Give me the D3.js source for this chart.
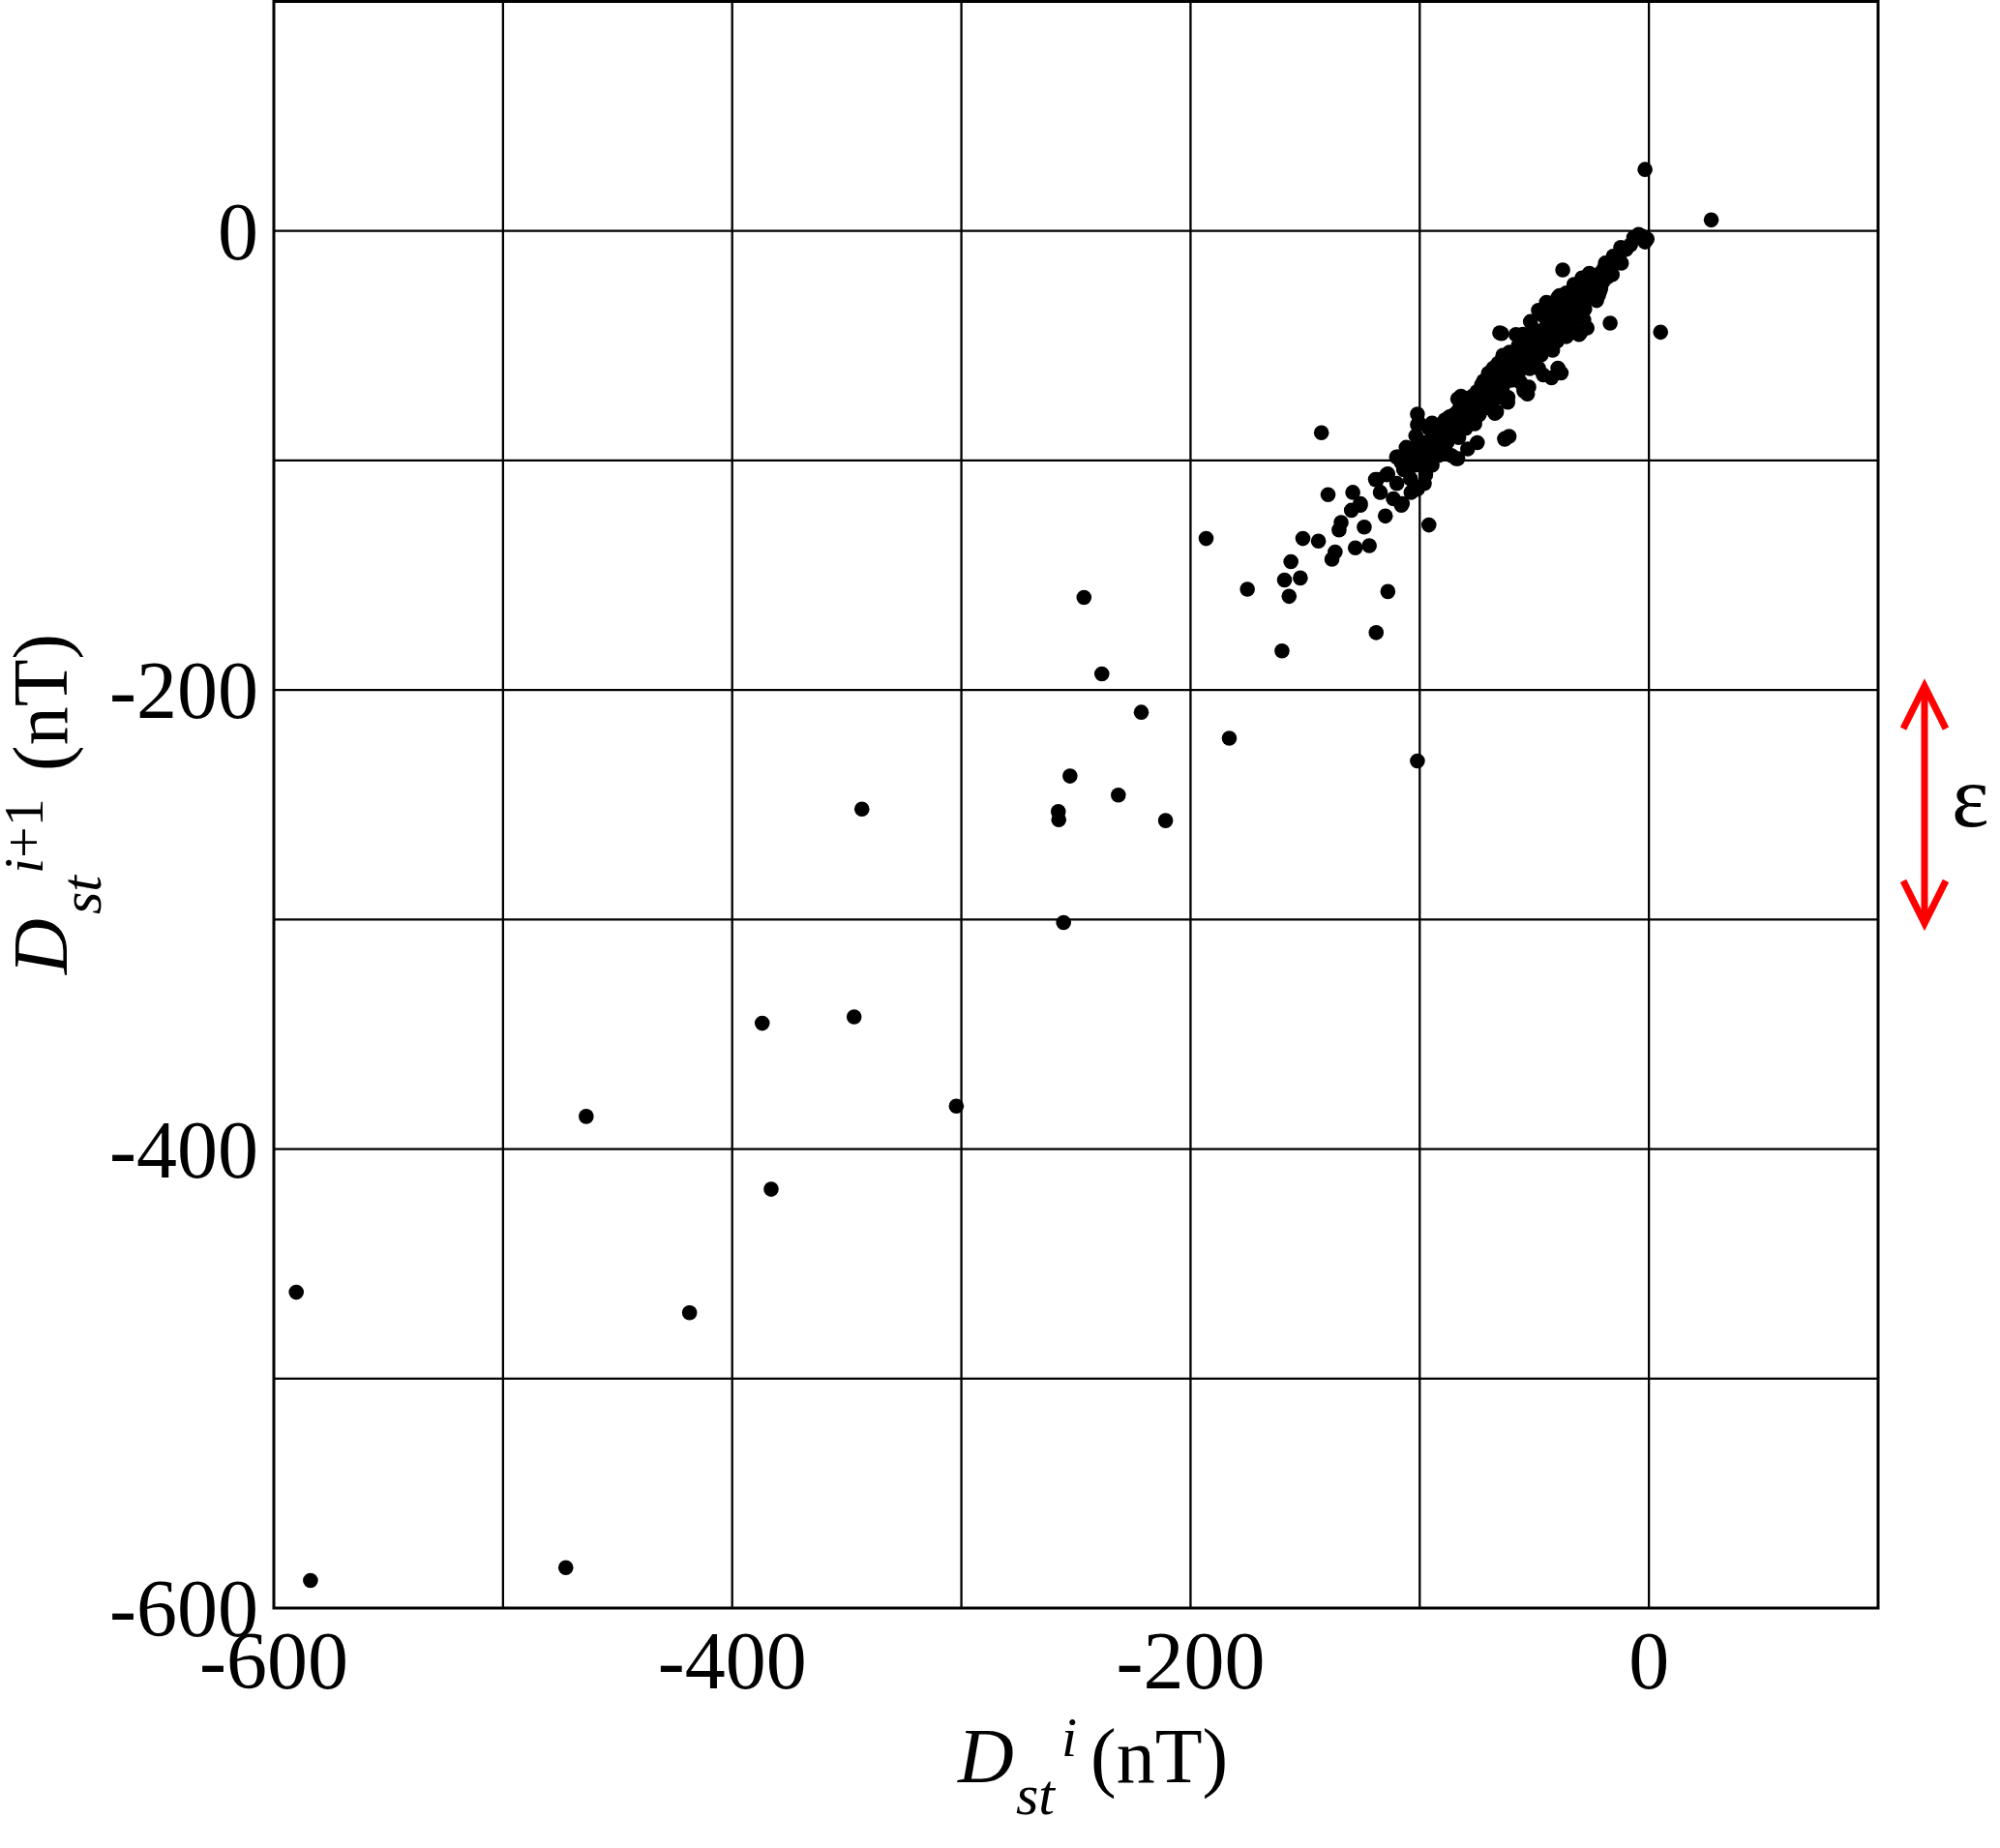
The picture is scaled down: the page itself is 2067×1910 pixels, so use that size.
<!DOCTYPE html>
<html>
<head>
<meta charset="utf-8">
<script src="https://cdn.jsdelivr.net/npm/d3@7"></script>
<style>
  body { margin: 0; background: #fff; }
  svg { display: block; }
  text { font-family: "Liberation Serif", "Times New Roman", serif; fill: #000; }
</style>
</head>
<body>
<svg id="chart" width="2067" height="1910"></svg>
<script>
// Dst(i) on x, Dst(i+1) on y (nT)
var dstNow = [
  // storm outliers
  -590.2, -584.0, -472.6, -418.6, -463.7, -383.0, -386.9, -346.8, -343.4, -302.2,
  -255.4, -257.7, -257.5, -252.6, -231.5, -210.9, -238.7, -221.5, -246.5, -183.1,
  -101.0,
  // -200 .. -95 band
  -193.2, -175.2, -160.1, -157.0, -159.0, -152.1, -156.2, -151.0, -144.2, -138.3,
  -136.9, -135.2, -134.3, -129.8, -125.9, -124.2, -128.1, -122.0, -115.0, -108.0,
  -113.9, -119.0, -96.0, -142.9, -140.0, -129.2, -125.9,
  -119.3, -113.9, -117.2, -111.5, -107.6, -103.8, -101.0, -104, -107, -110, -98,
  -114.4, -118.6, -110.1, -109.4, -105.9, -101.7, -101.0, -100.3, -101.0,
  // main cluster
  -97.4, -94.6, -91.8, -96.7, -90.4, -89.0, -86.2, -83.4, -84.1, -79.1, -74.9,
  -94.6, -96, -92, -99, -101, -88, -85, -84, -80, -76,
  -80.6, -86.2, -83.4, -82, -77.7, -80, -74, -70, -72.1, -70, -68, -72, -75,
  -66.5, -67.2, -62.2, -61.5, -61.6, -54.5, -54.5, -53, -52.4, -63.7, -63.7,
  -62.9, -62.9, -61, -65.8, -67.9, -62, -58, -60, -56,
  -60.8, -63.7, -57, -53, -48, -45, -42, -40, -36,
  -38.3, -42.5, -39.7, -48.2, -46.1, -50, -52, -55, -47,
  -64.3, -65.1, -58.0, -51.7, -55, -50, -44.7, -39.7, -39.0, -42, -48.2, -46, -40, -38, -35, -44,
  -34.8, -33, -36, -37.6, -32.7, -29.2, -26, -31, -29.2, -27, -24, -22, -20,
  -28.4, -30.5, -27.0, -29.9, -16.9, -22.8, -21.4, -25,
  -18.6, -16.5, -14.4, -15.5, -12.3, -11.5, -6.6, -3.1, -1.7, -0.8, -4.5,
  -1.7, 27.2, 5.1,
  // dense core
  -108, -106, -104, -103, -102, -100, -99, -98, -97, -96, -95, -94, -93, -92, -91, -90,
  -89, -88, -87, -86, -85, -84, -83, -82, -81, -80, -79, -78, -77, -76, -75, -74,
  -73, -72, -71, -70, -69, -68, -67, -66, -65, -64, -63, -62, -61, -60, -59, -58,
  -57, -56, -55, -54, -53, -52, -51, -50, -49, -48, -47, -46, -45, -44, -43, -42,
  -41, -40, -39, -38, -37, -36, -35, -34, -33, -32, -31, -30, -29, -28, -27, -26,
  -25, -24, -23, -22, -21, -20, -19, -18, -17, -15, -13, -10, -8,
  // extra core fill
  -105, -101, -97, -93, -89, -86, -83, -79, -76, -73, -70, -67, -64, -61, -58, -55,
  -52, -49, -46, -43, -40, -37, -34, -31, -28, -25, -22, -19, -16, -12,
  -99, -92, -87, -81, -74, -68, -62, -57, -51, -45, -39, -33, -27, -21
];
var dstNext = [
  -462.4, -588.0, -582.4, -471.3, -385.8, -417.5, -345.2, -342.4, -251.9, -381.3,
  -301.3, -253.0, -256.5, -237.5, -245.8, -256.9, -193.0, -209.7, -159.7, -221.0,
  -230.9,
  -134.0, -156.1, -183.0, -159.2, -152.1, -151.2, -144.1, -134.0, -135.1, -143.0,
  -139.9, -130.3, -127.0, -121.7, -119.5, -129.0, -138.1, -137.1, -124.2, -119.5,
  -157.1, -175.0, -128.1, -87.9, -114.9, -113.9, -118.8,
  -108.3, -105.9, -113.9, -116.7, -118.8, -113.9, -112.5, -108, -104, -110, -110,
  -106.2, -108.3, -98.5, -98.5, -94.3, -89.3, -79.8, -83.7, -84.4,
  -106.2, -102, -97.8, -97.8, -90.7, -82.3, -80.9, -99.2, -99.2, -95, -92.2,
  -83.7, -86, -90, -100, -96, -86, -84, -88, -86, -82,
  -79.5, -97.8, -73.2, -72, -75.3, -76, -77, -75, -65.4, -62, -70, -72, -70,
  -78.8, -79.5, -73.9, -72.5, -74.6, -69, -69.8, -71, -68, -66.2, -67.5,
  -90.5, -90.7, -89.5, -57.7, -59.8, -58, -62, -65, -66,
  -52.8, -54.2, -50, -48, -47, -50, -52, -48, -46,
  -61.9, -64, -59.8, -59.8, -62.7, -56, -60, -58, -54,
  -44.7, -44.4, -45.1, -39.5, -45, -43, -31.1, -29, -28.2, -33, -34.6, -37, -36, -39, -41, -42,
  -34.6, -30, -27, -17, -23.3, -20.5, -18.5, -25.5, -24, -21.9, -20, -19, -17,
  -38.8, -45.1, -42.3, -44.4, -40.2, -30.3, -26.1, -28,
  -15.6, -18.4, -12.1, -11, -7.2, -7.5, -2.9, -2.2, -4.8, -3.5, -1.5,
  26.8, 4.8, -44.1,
  -101, -99, -100, -97, -102, -98, -94, -96, -92, -99, -94, -90, -96, -87, -92, -85,
  -89, -92, -84, -88, -80, -84, -78, -82, -86, -79, -75, -80, -72, -77, -74, -80,
  -70, -75, -68, -72, -66, -74, -64, -69, -62, -71, -60, -64, -58, -62, -56, -60,
  -54, -58, -52, -56, -50, -54, -48, -52, -46, -50, -44, -48, -42, -46, -40, -44,
  -38, -42, -36, -40, -34, -38, -32, -36, -30, -34, -29, -32, -27, -30, -25, -28,
  -23, -26, -22, -24, -20, -22, -18, -20, -16, -14, -11, -8, -6,
  -104, -93, -101, -89, -95, -81, -90, -73, -84, -67, -77, -61, -70, -55, -64, -49,
  -57, -44, -52, -37, -46, -32, -40, -26, -34, -20, -28, -14, -19, -14,
  -95, -94, -81, -84, -70, -73, -59, -62, -47, -51, -35, -39, -23, -25
];

var xTicks = [-600, -400, -200, 0];
var yTicks = [-600, -400, -200, 0];
var gridValues = [-500, -400, -300, -200, -100, 0];
var epsilonRange = [-200, -300];

var svg = d3.select("#chart");

var x = d3.scaleLinear().domain([-600, 100]).range([283, 1941]);
var y = d3.scaleLinear().domain([-600, 100]).range([1662, 1.5]);

var points = dstNow.map(function(d, i) { return [d, dstNext[i]]; });

// grid
var grid = svg.append("g").attr("stroke", "#000").attr("stroke-width", 2.3);
grid.selectAll("line.v").data(gridValues).enter().append("line")
    .attr("class", "v")
    .attr("x1", function(d) { return x(d); }).attr("x2", function(d) { return x(d); })
    .attr("y1", y(100)).attr("y2", y(-600));
grid.selectAll("line.h").data(gridValues).enter().append("line")
    .attr("class", "h")
    .attr("y1", function(d) { return y(d); }).attr("y2", function(d) { return y(d); })
    .attr("x1", x(-600)).attr("x2", x(100));

// frame
svg.append("rect")
    .attr("x", x(-600)).attr("y", y(100))
    .attr("width", x(100) - x(-600)).attr("height", y(-600) - y(100))
    .attr("fill", "none").attr("stroke", "#000").attr("stroke-width", 3);

// points
svg.append("g").selectAll("circle").data(points).enter().append("circle")
    .attr("cx", function(d) { return x(d[0]); })
    .attr("cy", function(d) { return y(d[1]); })
    .attr("r", 7.8)
    .attr("fill", "#000");

// tick labels
svg.append("g").selectAll("text").data(xTicks).enter().append("text")
    .attr("x", function(d) { return x(d); })
    .attr("y", 1745)
    .attr("text-anchor", "middle")
    .attr("font-size", 84)
    .text(function(d) { return d; });

svg.append("g").selectAll("text").data(yTicks).enter().append("text")
    .attr("x", 267)
    .attr("y", function(d) { return y(d) + 29; })
    .attr("text-anchor", "end")
    .attr("font-size", 84)
    .text(function(d) { return d; });

// x axis title: D_st^i (nT)
var xt = svg.append("text").attr("font-size", 80);
xt.append("tspan").attr("x", 990).attr("y", 1842).attr("font-style", "italic").text("D");
xt.append("tspan").attr("x", 1050).attr("y", 1875).attr("font-style", "italic").attr("font-size", 60).text("st");
xt.append("tspan").attr("x", 1097).attr("y", 1815).attr("font-style", "italic").attr("font-size", 58).text("i");
xt.append("tspan").attr("x", 1127).attr("y", 1842).text("(nT)");

// y axis title: D_st^(i+1) (nT)
var yt = svg.append("g").attr("transform", "translate(69,1007) rotate(-90)")
  .append("text").attr("font-size", 80);
yt.append("tspan").attr("x", 0).attr("y", 0).attr("font-style", "italic").text("D");
yt.append("tspan").attr("x", 62).attr("y", 35).attr("font-style", "italic").attr("font-size", 60).text("st");
yt.append("tspan").attr("x", 104).attr("y", -25).attr("font-style", "italic").attr("font-size", 58).text("i");
yt.append("tspan").attr("font-size", 58).text("+1");
yt.append("tspan").attr("x", 210).attr("y", 0).text("(nT)");

// epsilon arrow
var ax = 1989,
    y1 = y(epsilonRange[0]) - 7,
    y2 = y(epsilonRange[1]) + 7;
var arrow = svg.append("g").attr("stroke", "#ff0000").attr("stroke-width", 7).attr("fill", "none");
arrow.append("line").attr("x1", ax).attr("x2", ax).attr("y1", y1 + 3).attr("y2", y2 - 3);
arrow.append("path").attr("d", d3.line()([[ax - 22, y1 + 47], [ax, y1 + 3], [ax + 22, y1 + 47]]));
arrow.append("path").attr("d", d3.line()([[ax - 22, y2 - 47], [ax, y2 - 3], [ax + 22, y2 - 47]]));

svg.append("text")
    .attr("x", 2017)
    .attr("y", (y1 + y2) / 2 + 22)
    .attr("font-size", 92)
    .text("ε");
</script>
</body>
</html>
